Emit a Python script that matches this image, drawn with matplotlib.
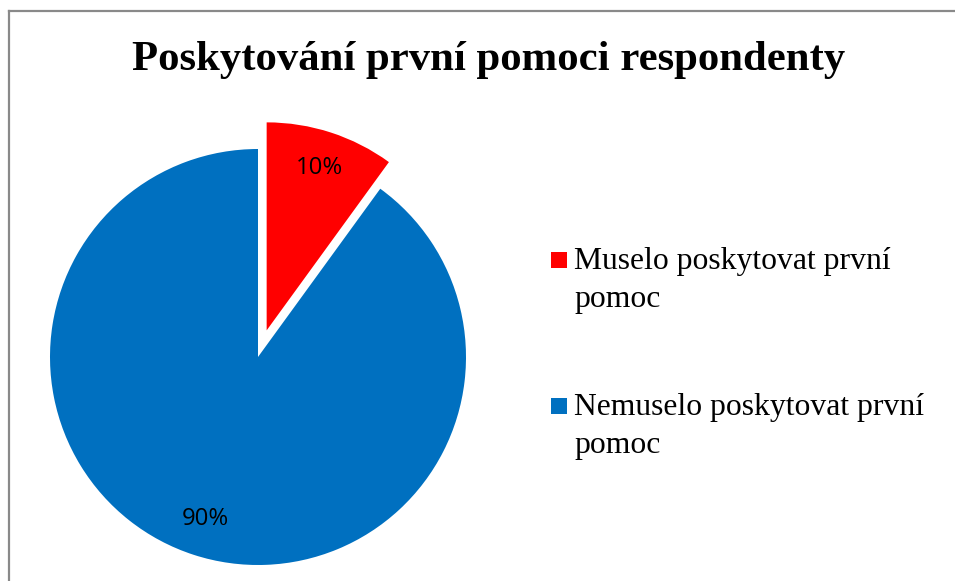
#!/usr/bin/env python3

from matplotlib import lines, patches
from matplotlib.pyplot import close, figure, savefig

title = "Poskytování první pomoci respondenty"
categories = ["Muselo poskytovat první\npomoc", "Nemuselo poskytovat první\npomoc"]
values = [10, 90]
colors = ["#FF0000", "#0070C0"]

W, H = 955, 581


def main():
    fig = figure(figsize=(W / 100, H / 100), dpi=100)
    ax = fig.add_axes([0, 0, 1, 1])

    # explode is in data units here (pixels), since radius != 1
    ax.pie(
        values,
        colors=colors,
        startangle=90,
        counterclock=False,
        center=(258, H - 357),
        radius=208,
        explode=[28, 0],
        autopct="%1.0f%%",
        pctdistance=0.82,
        frame=True,
        wedgeprops={"linewidth": 0},
        textprops={"family": "Open Sans", "fontsize": 17.2, "color": "black"},
    )
    ax.set_xlim(0, W)
    ax.set_ylim(0, H)
    ax.axis("off")

    fig.text(489 / W, (H - 70) / H, title, ha="center", va="baseline",
             family="Liberation Serif", fontweight="bold", fontsize=30.8)

    # legend, drawn by hand so the marker sits on the first line
    tops = [252, 398]
    for label, color, top in zip(categories, colors, tops):
        ax.add_patch(patches.Rectangle((551, H - top - 16), 16, 16,
                                       color=color, lw=0))
        for i, part in enumerate(label.split("\n")):
            ax.text(574, H - (top + 17 + 38 * i), part, ha="left",
                    va="baseline", family="Liberation Serif", fontsize=22.8)

    # chart border (only top and left visible)
    kw = {"color": "#898989", "lw": 1.6, "transform": fig.transFigure}
    fig.add_artist(lines.Line2D([9 / W, 1], [(H - 11) / H] * 2, **kw))
    fig.add_artist(lines.Line2D([9 / W] * 2, [0, (H - 11) / H], **kw))

    savefig("out.png", dpi=100)
    close()


if __name__ == "__main__":
    main()
